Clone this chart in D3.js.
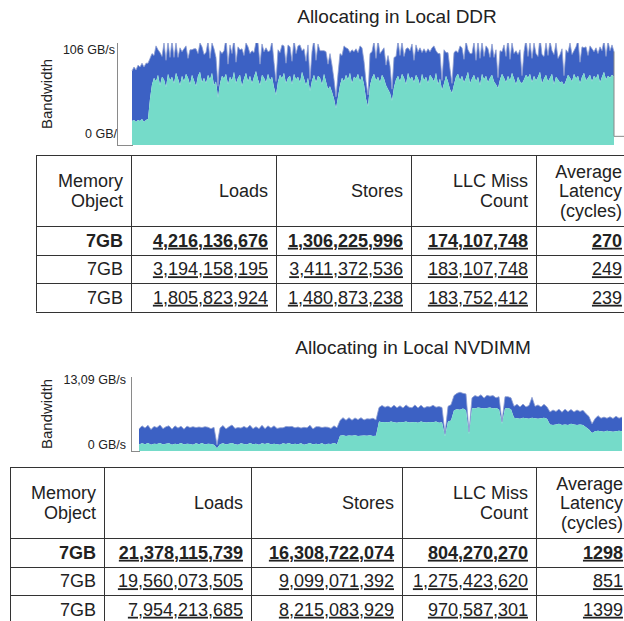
<!DOCTYPE html>
<html>
<head>
<meta charset="utf-8">
<script src="https://cdn.jsdelivr.net/npm/d3@7/dist/d3.min.js"></script>
<style>
  body { margin: 0; background: #fff; }
  text { font-family: "Liberation Sans", Arial, sans-serif; fill: #222; }
</style>
</head>
<body>
<div id="chart"></div>
<script>
// ---- data: Local DDR bandwidth samples (GB/s), teal = lower band, blue = stacked on top
var ddrTeal = [
  25,26,24,26,25,27,24,26,27,48,
  63,70,66,73,62,71,68,60,74,67,
  71,64,75,69,62,72,66,74,70,63,
  73,67,61,72,76,65,70,64,73,68,
  75,62,66,49,64,72,69,74,63,71,
  67,76,64,70,73,61,69,75,66,72,
  64,71,77,68,62,73,70,65,74,67,
  71,60,52,66,73,69,75,64,70,72,
  63,74,68,71,65,76,69,62,70,56,
  67,73,65,72,70,63,74,66,58,61,
  55,48,38,50,62,70,66,73,68,75,
  64,71,69,74,66,72,63,48,40,62,
  70,74,67,71,65,73,69,62,58,54,
  46,60,68,72,66,74,70,63,75,68,
  71,65,73,69,62,74,67,71,64,73,
  70,66,75,63,69,57,64,72,66,58,
  54,63,71,74,67,72,65,70,76,64,
  69,73,66,71,62,74,68,72,65,70,
  73,66,63,59,68,74,70,65,72,67,
  75,69,63,71,66,64,68,73,70,74,
  65,72,67,71,76,64,69,73,66,70,
  74,63,71,68,65,66,62,67,73,70,
  66,74,69,72,64,71,75,67,70,73,
  66,72,69,74,65,71,76,68,72,70,
  73,71
];
var ddrBlue = [
  52,55,54,57,56,58,57,59,58,42,
  32,23,37,26,34,21,38,28,33,24,
  37,27,31,22,39,25,34,29,20,36,
  26,33,39,23,30,37,24,32,35,22,
  31,38,25,12,34,23,29,37,21,33,
  28,35,22,32,26,39,24,31,36,23,
  34,25,30,38,22,32,27,36,23,31,
  37,26,14,33,23,35,28,21,34,30,
  24,36,27,32,39,22,31,25,34,12,
  30,37,23,33,28,35,24,31,26,34,
  28,20,12,24,33,23,37,28,32,21,
  35,26,31,22,37,29,24,18,12,33,
  27,34,23,38,30,25,32,21,35,28,
  12,31,24,36,27,33,22,37,26,30,
  34,23,31,28,39,22,33,25,36,24,
  31,37,23,32,26,10,35,24,30,21,
  10,33,27,22,36,29,24,38,23,31,
  26,34,22,37,28,33,24,31,35,21,
  32,25,36,11,30,23,34,27,39,22,
  31,26,35,23,33,8,29,37,22,32,
  25,34,28,21,36,30,23,33,27,38,
  24,31,35,22,29,34,10,32,23,36,
  28,24,33,37,22,31,26,35,23,30,
  34,25,32,21,37,27,33,24,36,28,
  31,26
];
var ddrTailLevel = 9;   // where the trace sits after the run ends

// ---- data: Local NVDIMM bandwidth samples (GB/s)
var nvTeal = [
  1.15,1.35,1.2,1.4,1.1,1.3,1.25,1.4,1.15,1.3,
  1.35,1.1,1.3,1.2,1.4,1.15,1.3,1.25,1.1,1.35,
  1.2,1.4,1.15,1.3,1.25,1.1,0.5,1.2,1.35,1.15,
  1.3,1.4,1.2,1.1,1.35,1.25,1.15,1.4,1.2,1.3,
  1.1,1.35,1.25,1.4,1.15,1.3,1.2,1.1,1.35,1.25,
  1.4,1.15,1.3,1.2,1.35,1.1,1.25,1.4,1.15,1.3,
  1.2,1.35,1.1,1.3,1.25,1.4,1.2,
  2.7,2.8,2.65,2.75,2.7,2.8,2.65,2.7,2.75,2.7,2.8,2.65,2.7,
  5.2,5.1,5.15,5.05,5.2,5.1,5.0,5.15,5.1,5.2,5.05,5.1,5.15,5.0,5.2,5.1,5.05,5.15,5.1,5.2,5.0,5.1,
  2.6,
  5.2,5.4,
  7.2,
  7.4,7.3,7.5,7.2,
  3.0,
  7.6,7.5,7.7,7.6,7.5,7.6,7.7,7.5,7.6,7.4,
  4.8,
  7.5,7.6,7.4,
  5.9,5.8,5.7,5.9,5.8,5.7,5.9,5.8,5.7,5.8,5.9,5.7,
  4.7,4.6,4.7,4.8,4.6,4.7,4.6,4.8,4.7,4.6,4.7,4.6,
  4.2,3.8,
  3.2,
  3.5,3.6,3.5,3.4,3.6,3.5,3.4,3.5,3.6,3.5
];
var nvBlue = [
  2.75,3.1,2.85,3.15,2.7,3.05,2.9,3.2,2.8,3.0,
  3.1,2.75,3.15,2.85,3.0,2.7,3.1,2.9,3.2,2.8,
  3.05,2.75,3.15,2.9,2.7,3.1,0.6,2.85,3.15,2.75,
  3.0,3.2,2.8,3.05,2.7,3.1,2.9,3.15,2.75,3.0,
  2.85,3.2,2.7,3.05,2.9,3.15,2.8,3.0,2.75,3.1,
  2.9,3.2,2.8,3.05,2.7,3.1,2.85,3.15,2.75,3.0,
  3.1,2.8,3.15,2.9,2.75,3.05,2.9,
  2.7,3.1,2.8,3.15,2.75,3.05,2.9,3.2,2.75,3.0,2.85,3.15,2.8,
  2.5,2.95,2.6,2.9,2.45,3.0,2.65,2.85,2.5,2.95,2.7,2.55,3.0,2.6,2.9,2.5,2.8,2.65,3.0,2.55,2.85,2.6,
  0.5,
  2.7,2.8,
  2.6,
  2.8,3.1,2.7,2.9,
  0.4,
  1.8,2.3,1.9,2.35,1.85,2.25,2.0,2.3,1.8,2.2,
  0.4,
  2.1,2.0,2.0,
  2.0,2.45,2.1,2.4,2.0,2.35,3.6,2.1,2.45,2.0,2.35,2.1,
  2.2,2.65,2.3,2.6,2.25,2.7,2.35,2.55,2.2,2.65,2.3,2.6,
  2.4,2.3,
  1.6,
  2.2,2.65,2.3,2.6,2.2,2.55,2.35,2.65,2.2,2.5
];

// ---- data: tables
var tableHeaders = [["Memory", "Object"], ["Loads"], ["Stores"], ["LLC Miss", "Count"], ["Average", "Latency", "(cycles)"]];
var ddrRows = [
  ["7GB", "4,216,136,676", "1,306,225,996", "174,107,748", "270"],
  ["7GB", "3,194,158,195", "3,411,372,536", "183,107,748", "249"],
  ["7GB", "1,805,823,924", "1,480,873,238", "183,752,412", "239"]
];
var nvRows = [
  ["7GB", "21,378,115,739", "16,308,722,074", "804,270,270", "1298"],
  ["7GB", "19,560,073,505", "9,099,071,392", "1,275,423,620", "851"],
  ["7GB", "7,954,213,685", "8,215,083,929", "970,587,301", "1399"]
];

var tealColor = "#75dbc9";
var blueColor = "#3c61c4";

var svg = d3.select("#chart")
  .append("svg")
  .attr("width", 624)
  .attr("height", 621);

var defs = svg.append("defs");

// draws one bandwidth panel (title, axis, stacked area)
function drawPanel(cfg) {
  var data = cfg.teal.map(function(v, i) { return {teal: v, blue: cfg.blue[i]}; });
  var stacked = d3.stack().keys(["teal", "blue"])(data);

  var x = d3.scaleLinear().domain([0, data.length - 1]).range(cfg.xRange);
  var y = d3.scaleLinear().domain([0, cfg.yMax]).range([cfg.bottom, cfg.top]);

  svg.append("text")
    .attr("x", cfg.titleX)
    .attr("y", cfg.titleY)
    .attr("text-anchor", "middle")
    .attr("font-size", "19px")
    .text(cfg.title);

  svg.append("text")
    .attr("transform", "translate(" + cfg.labelX + "," + ((cfg.top + cfg.bottom) / 2) + ") rotate(-90)")
    .attr("text-anchor", "middle")
    .attr("font-size", "15px")
    .text("Bandwidth");

  // clip so the trace stays inside the plot
  defs.append("clipPath").attr("id", cfg.id + "-clip")
    .append("rect")
    .attr("x", cfg.axisX).attr("y", cfg.top)
    .attr("width", 624 - cfg.axisX).attr("height", cfg.bottom - cfg.top + 1);

  var plot = svg.append("g").attr("clip-path", "url(#" + cfg.id + "-clip)");

  var area = d3.area()
    .x(function(d, i) { return x(i); })
    .y0(function(d) { return y(d[0]); })
    .y1(function(d) { return y(d[1]); });

  plot.append("path").datum(stacked[1]).attr("d", area).attr("fill", blueColor);
  plot.append("path").datum(stacked[0]).attr("d", area).attr("fill", tealColor);

  var topLine = d3.line()
    .x(function(d, i) { return x(i); })
    .y(function(d) { return y(d[1]); });
  plot.append("path").datum(stacked[1]).attr("d", topLine)
    .attr("fill", "none").attr("stroke", "#8d9dd0").attr("stroke-width", 0.8);

  if (cfg.tail !== undefined) {
    var last = data.length - 1;
    plot.append("path")
      .attr("d", d3.line()([[x(last), y(stacked[1][last][1])], [x(last), y(cfg.tail)], [624, y(cfg.tail)]]))
      .attr("fill", "none").attr("stroke", "#888").attr("stroke-width", 1);
  }

  // axis lines
  svg.append("line")
    .attr("x1", cfg.axisX + 0.5).attr("x2", cfg.axisX + 0.5)
    .attr("y1", cfg.top).attr("y2", cfg.bottom + 0.5)
    .attr("stroke", "#8a8a8a");
  svg.append("line")
    .attr("x1", cfg.axisX).attr("x2", cfg.xRange[0] + 1)
    .attr("y1", cfg.bottom + 0.5).attr("y2", cfg.bottom + 0.5)
    .attr("stroke", "#8a8a8a");

  // tick labels (the lower DDR one is cut by the axis, as in the source)
  defs.append("clipPath").attr("id", cfg.id + "-lab")
    .append("rect").attr("x", 0).attr("y", 0).attr("width", cfg.axisX).attr("height", 621);
  var labs = svg.append("g").attr("clip-path", "url(#" + cfg.id + "-lab)");
  cfg.ticks.forEach(function(t) {
    labs.append("text")
      .attr("x", t.x)
      .attr("y", y(t.v) + t.dy)
      .attr("text-anchor", t.anchor)
      .attr("font-size", "12.5px")
      .text(t.label);
  });
}

// draws a results table
function drawTable(cfg, rows) {
  var g = svg.append("g");
  var edges = cfg.cols;
  var headerH = 71, rowH = 28.5;
  var ys = [cfg.top, cfg.top + headerH];
  rows.forEach(function(r, i) { ys.push(cfg.top + headerH + rowH * (i + 1)); });
  var bottom = ys[ys.length - 1];

  ys.forEach(function(yy) {
    g.append("line")
      .attr("x1", edges[0]).attr("x2", edges[edges.length - 1])
      .attr("y1", Math.round(yy) + 0.5).attr("y2", Math.round(yy) + 0.5)
      .attr("stroke", "#333");
  });
  edges.forEach(function(xx) {
    g.append("line")
      .attr("x1", xx + 0.5).attr("x2", xx + 0.5)
      .attr("y1", ys[0]).attr("y2", bottom)
      .attr("stroke", "#333");
  });

  // header
  var hc = cfg.top + headerH / 2;
  tableHeaders.forEach(function(lines, c) {
    lines.forEach(function(line, k) {
      g.append("text")
        .attr("x", edges[c + 1] - 8)
        .attr("y", hc + (k - (lines.length - 1) / 2) * 19.5 + 6.5)
        .attr("text-anchor", "end")
        .attr("font-size", "18px")
        .text(line);
    });
  });

  rows.forEach(function(r, i) {
    var cy = cfg.top + headerH + rowH * i + rowH / 2;
    r.forEach(function(cell, c) {
      g.append("text")
        .attr("x", edges[c + 1] - 8)
        .attr("y", cy + 6.5)
        .attr("text-anchor", "end")
        .attr("font-size", "18px")
        .attr("font-weight", i === 0 ? "bold" : "normal")
        .attr("text-decoration", c > 0 ? "underline" : null)
        .text(cell);
    });
  });
}

drawPanel({
  id: "ddr", title: "Allocating in Local DDR", titleX: 397, titleY: 23,
  labelX: 52, top: 43, bottom: 145, axisX: 117, xRange: [132, 614], yMax: 106,
  teal: ddrTeal, blue: ddrBlue, tail: ddrTailLevel,
  ticks: [
    {v: 106, label: "106 GB/s", x: 115, dy: 11, anchor: "end"},
    {v: 0, label: "0 GB/s", x: 85, dy: -7, anchor: "start"}
  ]
});
drawTable({top: 155, cols: [36, 131, 276, 411, 536, 630]}, ddrRows);

drawPanel({
  id: "nv", title: "Allocating in Local NVDIMM", titleX: 413, titleY: 354,
  labelX: 52, top: 377, bottom: 451, axisX: 131, xRange: [139, 622], yMax: 13.09,
  teal: nvTeal, blue: nvBlue,
  ticks: [
    {v: 13.09, label: "13,09 GB/s", x: 126, dy: 7, anchor: "end"},
    {v: 0, label: "0 GB/s", x: 126, dy: -2, anchor: "end"}
  ]
});
drawTable({top: 467, cols: [10, 104, 251, 402, 536, 631]}, nvRows);
</script>
</body>
</html>
